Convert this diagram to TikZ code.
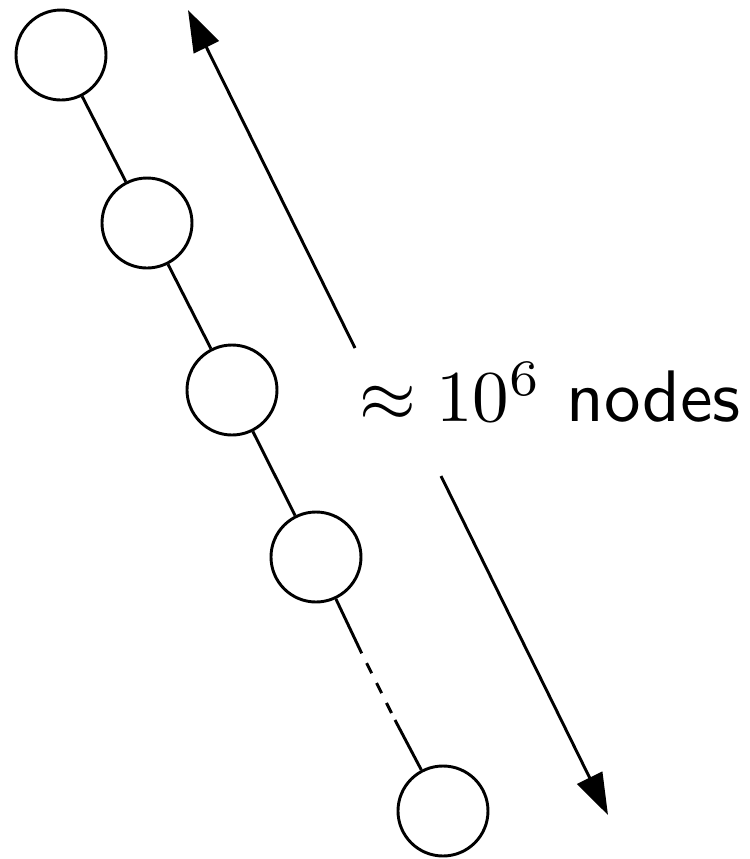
\documentclass[tikz,border=0pt]{standalone}
\usetikzlibrary{arrows.meta}
\begin{document}
\begin{tikzpicture}[x=0.137pt,y=-0.137pt,
  dot/.style={circle,draw,line width=0.4pt,minimum size=90*0.137pt,inner sep=0pt},
  link/.style={line width=0.4pt},
  far/.style={line width=0.4pt,-{Triangle[length=5.7pt,width=3.8pt]}}]
\useasboundingbox (0,0) rectangle (750,859);
\node[dot] (c1) at (61,55) {};
\node[dot] (c2) at (147,223) {};
\node[dot] (c3) at (232,390) {};
\node[dot] (c4) at (316,557) {};
\node[dot] (c5) at (443,811) {};
\coordinate (a) at (361.7,653.3);
\coordinate (b) at (395,720);
\draw[link] (c1) -- (c2);
\draw[link] (c2) -- (c3);
\draw[link] (c3) -- (c4);
\draw[link] (c4) -- (a);
\draw[link,dash pattern=on 1.55pt off 1.5pt,dash phase=1.55pt] (a) -- (b);
\draw[link] (b) -- (c5);
\node[anchor=base,inner sep=0pt] (t) at (550,421.7) {$\approx 10^6$ \textsf{nodes}};
\coordinate (u0) at (355,348);
\coordinate (u1) at (188,10);
\coordinate (d0) at (441,476);
\coordinate (d1) at (608,815);
\draw[far] (u0) -- (u1);
\draw[far] (d0) -- (d1);
\end{tikzpicture}
\end{document}
